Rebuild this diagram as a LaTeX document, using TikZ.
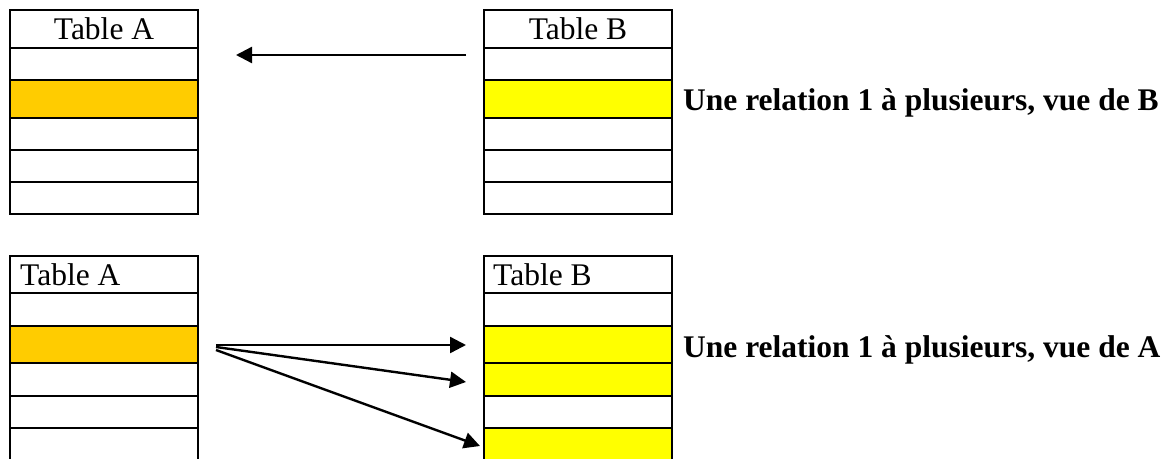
\documentclass[tikz,border=0pt]{standalone}
\usepackage{fontspec}
\setmainfont{Liberation Serif}
\usetikzlibrary{arrows.meta}
\definecolor{orangecell}{HTML}{FFCC00}
\definecolor{yellowcell}{HTML}{FFFF00}
\begin{document}
\begin{tikzpicture}[x=1pt,y=-1pt,
  cell/.style={draw=black,line width=2.4pt,anchor=north west,inner sep=0pt,outer sep=0pt,minimum width=188pt},
  hl/.style={fill=orangecell},
  hy/.style={fill=yellowcell},
  ttl/.style={font=\fontsize{31.5}{36}\selectfont,inner sep=0pt,anchor=base},
  lbl/.style={font=\fontsize{31.5}{36}\selectfont\bfseries,inner sep=0pt,anchor=base west},
  conn/.style={line width=2.4pt,-{Triangle[length=16pt,width=16pt]}}]
\useasboundingbox (0,0) rectangle (1170,458);
% ---- top Table A
\node[cell,minimum height=38pt] (tAh) at (10,10) {};
\node[cell,minimum height=32pt] (tA1) at (10,48) {};
\node[cell,hl,minimum height=38pt] (tA2) at (10,80) {};
\node[cell,minimum height=32pt] (tA3) at (10,118) {};
\node[cell,minimum height=32pt] (tA4) at (10,150) {};
\node[cell,minimum height=32pt] (tA5) at (10,182) {};
\node[ttl] (tAt) at (104,39) {Table A};
% ---- top Table B
\node[cell,minimum height=38pt] (tBh) at (484,10) {};
\node[cell,minimum height=32pt] (tB1) at (484,48) {};
\node[cell,hy,minimum height=38pt] (tB2) at (484,80) {};
\node[cell,minimum height=32pt] (tB3) at (484,118) {};
\node[cell,minimum height=32pt] (tB4) at (484,150) {};
\node[cell,minimum height=32pt] (tB5) at (484,182) {};
\node[ttl] (tBt) at (578,39) {Table B};
\node[lbl] (lblB) at (683,110) {Une relation 1 à plusieurs, vue de B};
% top arrow
\coordinate (s0) at (466,55);
\coordinate (e0) at (236,55);
\draw[conn] (s0) -- (e0);
% ---- bottom Table A
\node[cell,minimum height=37pt] (bAh) at (10,256) {};
\node[cell,minimum height=33pt] (bA1) at (10,293) {};
\node[cell,hl,minimum height=37pt] (bA2) at (10,326) {};
\node[cell,minimum height=33pt] (bA3) at (10,363) {};
\node[cell,minimum height=32pt] (bA4) at (10,396) {};
\node[cell,minimum height=34pt] (bA5) at (10,428) {};
\node[ttl,anchor=base west] (bAt) at (20,285) {Table A};
% ---- bottom Table B
\node[cell,minimum height=37pt] (bBh) at (484,256) {};
\node[cell,minimum height=33pt] (bB1) at (484,293) {};
\node[cell,hy,minimum height=37pt] (bB2) at (484,326) {};
\node[cell,hy,minimum height=33pt] (bB3) at (484,363) {};
\node[cell,minimum height=32pt] (bB4) at (484,396) {};
\node[cell,hy,minimum height=34pt] (bB5) at (484,428) {};
\node[ttl,anchor=base west] (bBt) at (493,285) {Table B};
\node[lbl] (lblA) at (683,357) {Une relation 1 à plusieurs, vue de A};
% bottom arrows
\coordinate (s1) at (216,345);
\coordinate (s2) at (216,347);
\coordinate (s3) at (216,350);
\coordinate (e1) at (466,345);
\coordinate (e2) at (466,382);
\coordinate (e3) at (480,446);
\draw[conn] (s1) -- (e1);
\draw[conn] (s2) -- (e2);
\draw[conn] (s3) -- (e3);
\end{tikzpicture}
\end{document}
